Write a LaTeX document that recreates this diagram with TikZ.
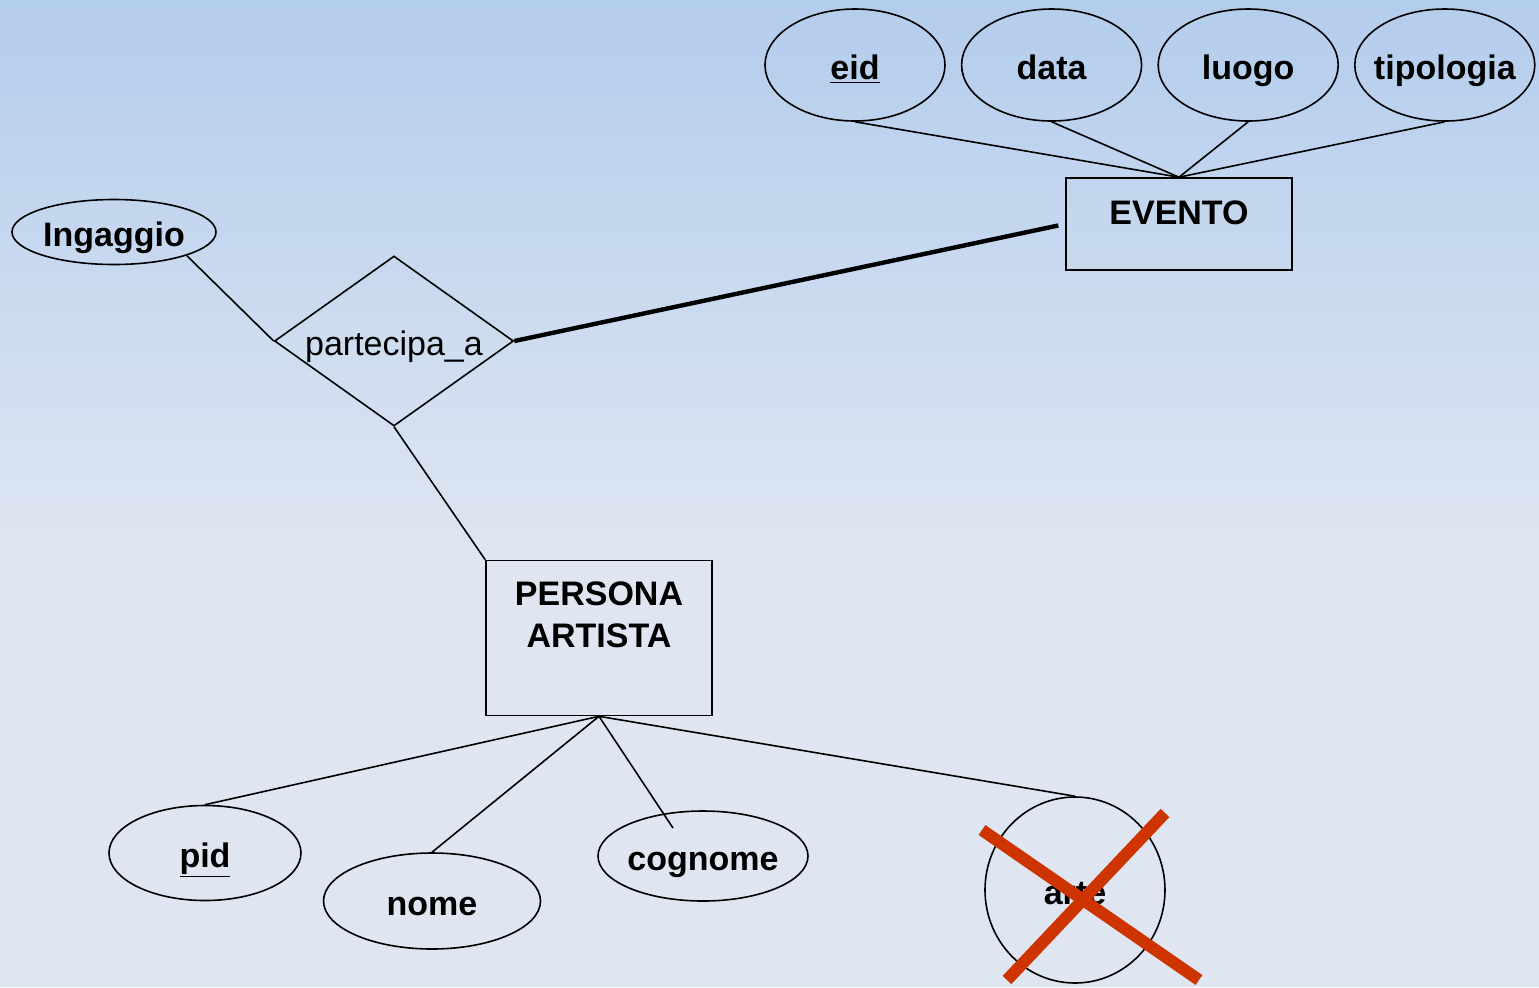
\documentclass[tikz,border=0pt]{standalone}
\usepackage{fontspec}
\setmainfont{Liberation Sans}
\usetikzlibrary{shapes.geometric,positioning}
\definecolor{bgtop}{RGB}{179,205,236}
\definecolor{bgbot}{RGB}{223,230,242}
\definecolor{crossred}{RGB}{206,52,0}

\begin{document}
\begin{tikzpicture}[x=0.5pt,y=-0.5pt,on grid,line width=0.8pt,
	every node/.style={font=\bfseries\fontsize{17pt}{21pt}\selectfont},
	attr/.style={draw,ellipse,inner xsep=-5pt,inner ysep=0pt,text height=15.5pt,text depth=1.5pt,minimum width=90pt,minimum height=56pt},
	entity/.style={draw,rectangle,inner sep=0pt,minimum width=113pt,align=center},
	relation/.style={draw,diamond,aspect=1.4,inner sep=0pt,text height=15.5pt,text depth=1.5pt,minimum width=119.5pt,minimum height=85pt,font=\fontsize{17pt}{21pt}\selectfont}]
	\fill[bgbot] (0,0) rectangle (1539,987);
	\shade[top color=bgtop,bottom color=bgbot] (0,0) rectangle (1539,560);
	\useasboundingbox (0,0) rectangle (1539,987);

	\node[attr] (eid) at (855,65) {\underline{eid}};
	\node[attr] (data) [right=98.3pt of eid] {data};
	\node[attr] (luogo) [right=98.3pt of data] {luogo};
	\node[attr] (tipo) [right=98.3pt of luogo] {tipologia};
	\node[entity,text height=23pt,text depth=23pt] (ev) at (1179,224) {EVENTO};
	\node[attr,minimum width=102pt,minimum height=32.5pt] (ing) at (114,232) {Ingaggio};
	\node[relation] (rel) at (394,341) {partecipa\_a};
	\node[entity,text height=43.5pt,text depth=34pt] (per) at (599,638) {PERSONA\\ARTISTA};
	\node[attr,minimum width=96pt,minimum height=47.5pt] (pid) at (205,853) {\underline{pid}};
	\node[attr,minimum width=108.5pt,minimum height=48pt] (nome) at (432,901) {nome};
	\node[attr,minimum width=105pt,minimum height=45pt] (cog) at (703,856) {cognome};
	\node[attr,minimum width=90pt,minimum height=93pt] (arte) at (1075,890) {arte};
	\coordinate (cogtip) at ([shift={(-30,-28)}]cog.center);

	\path
	(eid.south) edge (ev.north)
	(data.south) edge (ev.north)
	(luogo.south) edge (ev.north)
	(tipo.south) edge (ev.north)
	(ing.south east) edge (rel.west)
	(rel.south) edge (per.north west)
	(per.south) edge (pid.north)
	(per.south) edge (nome.north)
	(per.south) edge (cogtip)
	(per.south) edge (arte.north)
	;
	\draw[line width=2.2pt,shorten >=3.5pt] (rel.east) -- (ev.west);

	% crossed out attribute
	\draw[crossred,line width=6pt] ([shift={(-93,-60)}]arte.center) -- ([shift={(124,90)}]arte.center);
	\draw[crossred,line width=6pt] ([shift={(90,-77)}]arte.center) -- ([shift={(-68,90)}]arte.center);
\end{tikzpicture}
\end{document}
